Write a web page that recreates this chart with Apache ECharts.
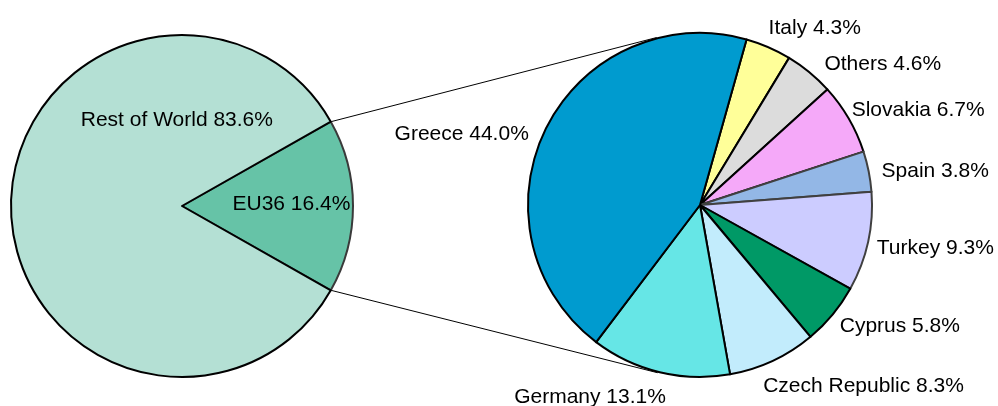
<!DOCTYPE html>
<html><head><meta charset="utf-8">
<script src="https://cdn.jsdelivr.net/npm/echarts@6/dist/echarts.min.js"></script>
<style>html,body{margin:0;padding:0;background:#fff}#c{width:998px;height:406px}</style>
</head><body><div id="c"></div>
<script>
// ---- data ----
const overviewNames = ['EU36', 'Rest of World'];
const overviewValues = [16.4, 83.6];
const eu36Names = ['Italy', 'Others', 'Slovakia', 'Spain', 'Turkey', 'Cyprus', 'Czech Republic', 'Germany', 'Greece'];
const eu36Values = [4.3, 4.6, 6.7, 3.8, 9.3, 5.8, 8.3, 13.1, 44.0];

// ---- styles ----
const overviewColors = ['#66c3a7', '#b4e0d4'];
const overviewBorders = ['#3a3a3a', '#000000'];
const eu36Colors = ['#ffff99', '#dcdcdc', '#f5a9f9', '#93b7e6', '#ccccff', '#009966', '#c2ecfc', '#66e6e6', '#009bcf'];
const eu36Borders = ['#000', '#000', '#000', '#404040', '#404040', '#000', '#000', '#000', '#000'];
const L = {cx: 182, cy: 206, r: 171};
const R = {cx: 700, cy: 205, r: 172};
const rightStartAngle = 74.3;
const leftLabelSpots = [[0.64, -0.01], [-0.03, -0.5]]; // label centre as fraction of radius
const labelNudge = [[-3, -1], [10, 7], [-4, 2], [5, 4], [1, 2], [1, -1], [-13, 7], [8, 6], [-10, 15]];
const FONT = '"Liberation Sans", Arial, sans-serif';
const FS = 21;

function sum(a) { return a.reduce((s, v) => s + v, 0); }
function midAngles(vals, start) {
  const tot = sum(vals); let acc = 0;
  return vals.map(v => { const m = start - (acc + v / 2) / tot * 360; acc += v; return m; });
}
const leftStart = overviewValues[0] / sum(overviewValues) * 360 / 2;
const rightMids = midAngles(eu36Values, rightStartAngle);

const fmt = p => p.name + ' ' + Number(p.value).toFixed(1) + '%';

const chart = echarts.init(document.getElementById('c'), null, {renderer: 'canvas'});

// connector lines: tangents from EU36 slice edges to right pie
const rad = Math.PI / 180;
function tangent(px, py, upper) {
  const rr = R.r + 1;
  const dx = R.cx - px, dy = R.cy - py, D = Math.hypot(dx, dy);
  const phi = Math.atan2(dy, dx), beta = Math.asin(rr / D), Lt = Math.sqrt(D * D - rr * rr);
  const psi = upper ? phi - beta : phi + beta;
  return [px + Lt * Math.cos(psi), py + Lt * Math.sin(psi)];
}
const pUp = [L.cx + L.r * Math.cos(leftStart * rad), L.cy - L.r * Math.sin(leftStart * rad)];
const pDn = [L.cx + L.r * Math.cos(leftStart * rad), L.cy + L.r * Math.sin(leftStart * rad)];
const tUp = tangent(pUp[0], pUp[1], true), tDn = tangent(pDn[0], pDn[1], false);

chart.setOption({
  animation: false,
  backgroundColor: '#ffffff',
  graphic: [
    {type: 'line', z: 0, shape: {x1: pUp[0], y1: pUp[1], x2: tUp[0], y2: tUp[1]}, style: {stroke: '#000', lineWidth: 1}},
    {type: 'line', z: 0, shape: {x1: pDn[0], y1: pDn[1], x2: tDn[0], y2: tDn[1]}, style: {stroke: '#000', lineWidth: 1}}
  ],
  series: [
    {
      type: 'pie', silent: true, center: [L.cx, L.cy], radius: L.r, startAngle: leftStart, clockwise: true,
      avoidLabelOverlap: false,
      label: {show: true, position: 'inside', formatter: fmt, color: '#000', fontSize: FS, fontFamily: FONT},
      labelLine: {show: false},
      labelLayout: p => {
        const s = leftLabelSpots[p.dataIndex];
        return {x: L.cx + s[0] * L.r, y: L.cy + s[1] * L.r, align: 'center', verticalAlign: 'middle'};
      },
      data: overviewNames.map((n, i) => ({name: n, value: overviewValues[i],
        itemStyle: {color: overviewColors[i], borderColor: overviewBorders[i], borderWidth: 2}}))
    },
    {
      type: 'pie', silent: true, center: [R.cx, R.cy], radius: R.r, startAngle: rightStartAngle, clockwise: true,
      avoidLabelOverlap: false,
      label: {show: true, position: 'outside', formatter: fmt, color: '#000', fontSize: FS, fontFamily: FONT},
      labelLine: {show: false},
      labelLayout: p => {
        const a = rightMids[p.dataIndex] * rad;
        const ux = Math.cos(a), uy = -Math.sin(a);
        const px = R.cx + R.r * ux, py = R.cy + R.r * uy;
        const w = p.labelRect.width;
        const nd = labelNudge[p.dataIndex];
        const cx = px + Math.sign(ux) * (w / 2 + 8 * Math.abs(ux)) + nd[0];
        const cy = py + uy * 20 + nd[1];
        return {x: cx, y: cy, align: 'center', verticalAlign: 'middle'};
      },
      data: eu36Names.map((n, i) => ({name: n, value: eu36Values[i],
        itemStyle: {color: eu36Colors[i], borderColor: eu36Borders[i], borderWidth: 2}}))
    }
  ]
});
</script>
</body></html>
